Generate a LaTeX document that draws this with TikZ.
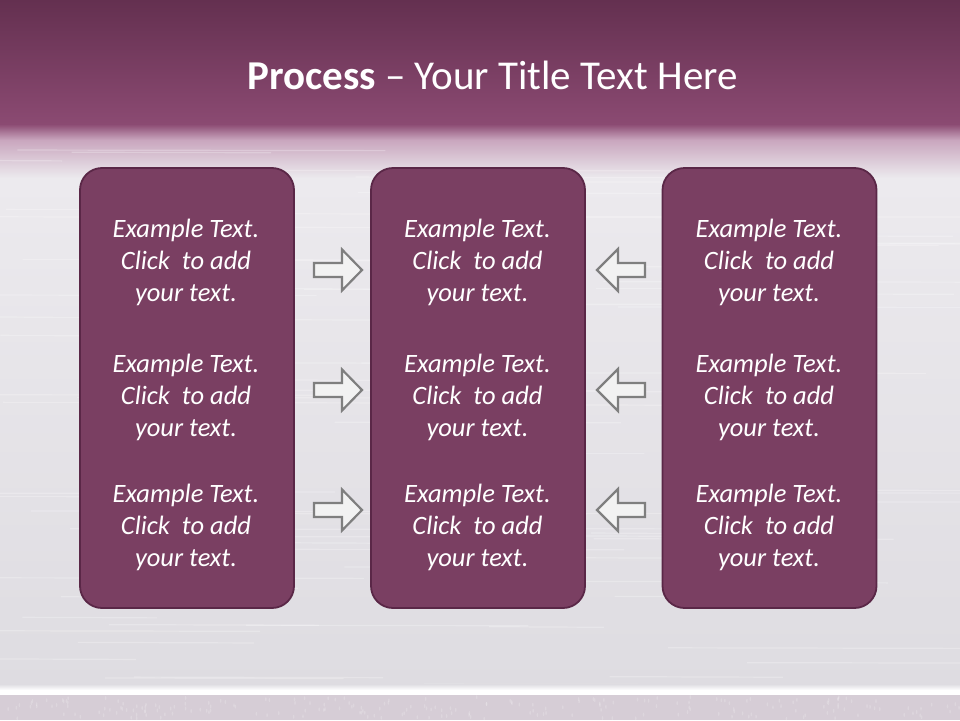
\documentclass[tikz,border=0pt]{standalone}
\usepackage{fontspec}
\setmainfont{Carlito}
\definecolor{bgtop}{HTML}{643050}
\definecolor{bgmid}{HTML}{8B4A72}
\definecolor{bgfade}{HTML}{C9A6BE}
\definecolor{bglight}{HTML}{ECEAEE}
\definecolor{bglow}{HTML}{DEDCE1}
\definecolor{bottomc}{HTML}{D6CDD6}
\definecolor{boxfill}{HTML}{7A3F62}
\definecolor{boxline}{HTML}{5A2747}
\definecolor{arrowline}{HTML}{7F7F7F}
\definecolor{arrowfill}{HTML}{F2F2F2}
\newcommand\exampletext{Example Text.\\Click~ to add\\your text.}
\tikzset{
  panel/.style={draw=boxline, fill=boxfill, line width=1.8pt, rounded corners=22pt,
    minimum width=214pt, minimum height=440pt, inner sep=0pt},
  bodytext/.style={text=white, align=center, inner sep=0pt,
    font=\fontsize{26.5}{32}\selectfont\itshape},
  blockarrow/.style={draw=arrowline, fill=arrowfill, line width=2.2pt, line join=miter},
  titletext/.style={text=white, inner sep=0pt, font=\fontsize{41}{44}\selectfont}
}
\begin{document}
\begin{tikzpicture}[x=1pt,y=-1pt]
\useasboundingbox (0,0) rectangle (960,720);
% background
\shade[top color=bgtop, bottom color=bgmid] (0,0) rectangle (960,124);
\shade[top color=bgmid, bottom color=bgfade] (0,124) rectangle (960,140);
\shade[top color=bgfade, bottom color=bglight] (0,140) rectangle (960,178);
\shade[top color=bglight, bottom color=bglow] (0,178) rectangle (960,688);
\pgfmathsetseed{7}
\foreach \i in {1,...,90}{
  \pgfmathsetmacro\yy{150+rnd*535}
  \pgfmathsetmacro\xx{-100+rnd*900}
  \pgfmathsetmacro\ll{80+rnd*350}
  \draw[white, opacity=0.25, line width=1.2pt] (\xx,\yy) -- ++(\ll,0.6);
}
\shade[top color=bglow, bottom color=white] (0,684) rectangle (960,690);
\fill[white] (0,690) rectangle (960,695);
\fill[bottomc] (0,695) rectangle (960,720);
\foreach \i in {1,...,220}{
  \pgfmathsetmacro\yy{697+rnd*22}
  \pgfmathsetmacro\xx{rnd*960}
  \fill[white, opacity=0.18] (\xx,\yy) ellipse (0.8 and 2);
}
% title
\node[titletext] (title) at (492.5,75) {\textbf{Process} – Your Title Text Here};
% panels
\node[panel] (p1) at (187,388) {};
\node[panel] (p2) at (478,388) {};
\node[panel] (p3) at (769.5,388) {};
% texts
\foreach \c/\px in {1/186,2/477.5,3/769}{
  \foreach \r/\py in {1/262,2/397,3/527}{
    \node[bodytext] (t\c\r) at (\px,\py) {\exampletext};
  }
}
% arrows
\coordinate (ra1) at (338,270);
\coordinate (ra2) at (338,390);
\coordinate (ra3) at (338,510);
\coordinate (la1) at (621,270);
\coordinate (la2) at (621,390);
\coordinate (la3) at (621,510);
\foreach \k in {1,2,3}{
  \draw[blockarrow, shift={(ra\k)}] (-24,-7) -- (4,-7) -- (4,-20.5) -- (24,0) -- (4,20.5) -- (4,7) -- (-24,7) -- cycle;
  \draw[blockarrow, shift={(la\k)}] (24,-7) -- (-3,-7) -- (-3,-21) -- (-24,0) -- (-3,21) -- (-3,7) -- (24,7) -- cycle;
}
\end{tikzpicture}
\end{document}
